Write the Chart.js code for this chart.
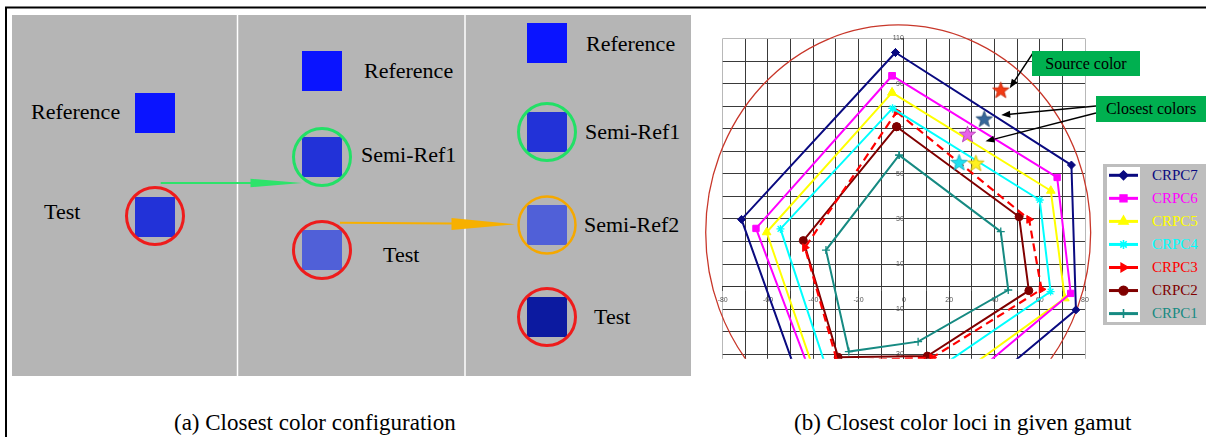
<!DOCTYPE html>
<html>
<head>
<meta charset="utf-8">
<script src="https://cdn.jsdelivr.net/npm/chart.js@4.4.1/dist/chart.umd.min.js"></script>
<style>
  html, body { margin: 0; padding: 0; background: #fff; }
  body { width: 1206px; height: 437px; position: relative; overflow: hidden; font-family: "Liberation Serif", "Times New Roman", serif; }
  #figure { position: absolute; left: 0; top: 0; }
  #chart-wrap { position: absolute; left: 690px; top: 0; width: 516px; height: 437px; }
  .note { position: absolute; background: #00b050; color: #000; font-size: 16px; text-align: center; white-space: nowrap; }
  #legend { position: absolute; left: 1103px; top: 164px; width: 103px; height: 161px; background: #bebebe; }
  #legend canvas { position: absolute; left: 4px; top: 3px; background: #fff; }
  #legend span { position: absolute; left: 49px; font-size: 15px; line-height: 15px; white-space: nowrap; }
</style>
</head>
<body>

<svg id="figure" width="1206" height="437" font-family="Liberation Serif, Times New Roman, serif">
  <line x1="6" y1="7" x2="6" y2="437" stroke="#000" stroke-width="2"/>
  <line x1="5" y1="7.5" x2="1206" y2="7.5" stroke="#000" stroke-width="2"/>
  <rect x="12" y="15" width="679" height="361" fill="#b5b5b5"/>
  <line x1="237.5" y1="15" x2="237.5" y2="376" stroke="#fff" stroke-width="1.5"/>
  <line x1="465" y1="15" x2="465" y2="376" stroke="#fff" stroke-width="1.5"/>

  <!-- panel 1 -->
  <rect x="135" y="93" width="40" height="40" fill="#0a14ff"/>
  <text x="31" y="119" font-size="22">Reference</text>
  <rect x="135" y="197" width="40" height="40" fill="#2232d8"/>
  <circle cx="155" cy="216" r="28.5" fill="none" stroke="#ee1c1c" stroke-width="3"/>
  <text x="44" y="219" font-size="22">Test</text>
  <line x1="160.7" y1="183" x2="252" y2="183" stroke="#2de36a" stroke-width="2"/>
  <polygon points="250.5,178.8 302,183 250.5,187.2" fill="#2de36a"/>

  <!-- panel 2 -->
  <rect x="302" y="51" width="40" height="40" fill="#0a14ff"/>
  <text x="364" y="78" font-size="22">Reference</text>
  <rect x="302" y="137" width="40" height="40" fill="#2232d8"/>
  <circle cx="322" cy="157" r="28.5" fill="none" stroke="#22e066" stroke-width="3"/>
  <text x="361" y="162" font-size="22">Semi-Ref1</text>
  <rect x="302" y="230" width="40" height="40" fill="#5060d8"/>
  <circle cx="322" cy="250" r="28.5" fill="none" stroke="#ee1c1c" stroke-width="3"/>
  <text x="383" y="262" font-size="22">Test</text>
  <line x1="340" y1="222.7" x2="453" y2="223.5" stroke="#f7b000" stroke-width="2"/>
  <polygon points="451.5,218 515,224.3 451.5,230" fill="#f7b000"/>

  <!-- panel 3 -->
  <rect x="527" y="23" width="40" height="40" fill="#0a14ff"/>
  <text x="586" y="51" font-size="22">Reference</text>
  <rect x="527" y="112" width="40" height="40" fill="#2232d8"/>
  <circle cx="547" cy="132" r="28.5" fill="none" stroke="#22e066" stroke-width="3"/>
  <text x="585" y="139" font-size="22">Semi-Ref1</text>
  <rect x="527" y="205" width="40" height="40" fill="#5060d8"/>
  <circle cx="547" cy="225" r="28.5" fill="none" stroke="#f5a800" stroke-width="2.5"/>
  <text x="584" y="232" font-size="22">Semi-Ref2</text>
  <rect x="527" y="297" width="40" height="40" fill="#0c1aa0"/>
  <circle cx="547" cy="317" r="28.5" fill="none" stroke="#ee1c1c" stroke-width="3"/>
  <text x="594" y="324" font-size="22">Test</text>

  <text x="174" y="430" font-size="23">(a) Closest color configuration</text>
  <text x="794" y="430" font-size="23">(b) Closest color loci in given gamut</text>
</svg>

<div id="chart-wrap"><canvas id="myChart" width="516" height="437"></canvas></div>

<div class="note" style="left:1032px; top:51px; width:108px; height:25px; line-height:25px;">Source color</div>
<div class="note" style="left:1096px; top:96px; width:110px; height:26px; line-height:26px;">Closest colors</div>

<div id="legend"><canvas id="legendCanvas" width="33" height="155"></canvas></div>

<script>
// series in legend order
const seriesNames = ['CRPC7', 'CRPC6', 'CRPC5', 'CRPC4', 'CRPC3', 'CRPC2', 'CRPC1'];

// vertices (closed polygons, first point repeated)
const crpc7X = [-3.7, 74.0, 76.0, 31.0, -44.0, -71.7, -3.7];
const crpc7Y = [103.8, 53.9, -10.3, -48.0, -48.0, 29.8, 103.8];
const crpc6X = [-5.2, 67.7, 73.7, 20.0, -37.6, -65.3, -5.2];
const crpc6Y = [93.5, 48.4, -3.0, -48.0, -48.0, 25.8, 93.5];
const crpc5X = [-5.2, 64.9, 71.1, 12.0, -36.0, -60.6, -5.2];
const crpc5Y = [86.0, 42.5, -5.2, -48.0, -48.0, 24.1, 86.0];
const crpc4X = [-5.0, 60.0, 64.8, -2.0, -30.3, -54.5, -5.0];
const crpc4Y = [79.0, 38.4, -2.2, -48.0, -48.0, 25.6, 79.0];
const crpc3X = [-3.2, 55.3, 60.8, 12.5, -29.5, -43.7, -3.2];
const crpc3Y = [77.5, 29.8, -1.2, -31.5, -33.0, 17.3, 77.5];
const crpc2X = [-3.2, 50.9, 55.2, 10.4, -29.0, -44.4, -3.2];
const crpc2Y = [70.9, 31.0, -1.8, -30.8, -31.3, 20.4, 70.9];
const crpc1X = [-2.1, 42.8, 46.1, 6.3, -24.3, -34.4, -2.1];
const crpc1Y = [58.3, 24.4, -1.5, -24.4, -28.8, 16.2, 58.3];

// source color + closest colors
const starX = [42.8, 35.5, 28.1, 24.4, 31.8];
const starY = [87.1, 74.3, 67.5, 55.0, 54.7];

// gamut boundary (ellipse)
const gamutCenter = [-2.5, 24];
const gamutRadius = [85, 92];

// axes
const xGridValues = [-80, -70, -60, -50, -40, -30, -20, -10, 0, 10, 20, 30, 40, 50, 60, 70, 80];
const xTickLabels = [-80, -60, -40, -20, 0, 20, 40, 60, 80];
const yGridValues = [-30, -20, -10, 0, 10, 20, 30, 40, 50, 60, 70, 80, 90, 100, 110];
const yTickLabels = [110, 90, 70, 50, 30, 10, -10, -30];

// styles
const seriesColors = ['#0a0a80', '#ff00ff', '#ffff00', '#00ffff', '#ff0000', '#800000', '#168a82'];
const markerStyles = ['rectRot', 'rect', 'triangle', 'star', 'triangle', 'circle', 'cross'];
const markerRadii = [4, 4.5, 5, 4, 4.5, 4, 4];
const markerRotation = [0, 0, 0, 0, 90, 0, 0];
const starColors = ['#f23a14', '#37679a', '#e861e8', '#1fe0f0', '#fff01e'];
const starEdges = ['#c02000', '#20466e', '#b030b0', '#10a8b8', '#c8b000'];


function toPoints(xs, ys) {
    return xs.map((x, i) => ({ x: x, y: ys[i] }));
}


function makeStar(fill, edge) {
    const c = document.createElement('canvas');
    c.width = 19;
    c.height = 19;
    const g = c.getContext('2d');
    g.beginPath();
    for (let i = 0; i < 10; i++) {
        const r = i % 2 === 0 ? 8.6 : 3.6;
        const a = -Math.PI / 2 + i * Math.PI / 5;
        g.lineTo(9.5 + r * Math.cos(a), 10 + r * Math.sin(a));
    }
    g.closePath();
    g.fillStyle = fill;
    g.fill();
    g.strokeStyle = edge;
    g.lineWidth = 0.8;
    g.stroke();
    return c;
}


function drawArrow(ctx, x1, y1, x2, y2) {
    const a = Math.atan2(y2 - y1, x2 - x1);
    ctx.beginPath();
    ctx.moveTo(x1, y1);
    ctx.lineTo(x2 - 6 * Math.cos(a), y2 - 6 * Math.sin(a));
    ctx.stroke();
    ctx.beginPath();
    ctx.moveTo(x2, y2);
    ctx.lineTo(x2 - 9 * Math.cos(a) + 3.5 * Math.sin(a), y2 - 9 * Math.sin(a) - 3.5 * Math.cos(a));
    ctx.lineTo(x2 - 9 * Math.cos(a) - 3.5 * Math.sin(a), y2 - 9 * Math.sin(a) + 3.5 * Math.cos(a));
    ctx.closePath();
    ctx.fill();
}


const gamutPlugin = {
    id: 'gamut',
    beforeDatasetsDraw(chart) {
        const { ctx, chartArea, scales } = chart;
        const cx = scales.x.getPixelForValue(gamutCenter[0]);
        const cy = scales.y.getPixelForValue(gamutCenter[1]);
        const rx = scales.x.getPixelForValue(gamutCenter[0] + gamutRadius[0]) - cx;
        const ry = cy - scales.y.getPixelForValue(gamutCenter[1] + gamutRadius[1]);
        ctx.save();
        ctx.beginPath();
        ctx.rect(0, 0, chart.width, chartArea.bottom);
        ctx.clip();
        ctx.beginPath();
        ctx.ellipse(cx, cy, rx, ry, 0, 0, Math.PI * 2);
        ctx.strokeStyle = '#c8372a';
        ctx.lineWidth = 1.3;
        ctx.stroke();
        ctx.restore();
    },
    afterDatasetsDraw(chart) {
        const { ctx, scales } = chart;
        const px = (i) => scales.x.getPixelForValue(starX[i]);
        const py = (i) => scales.y.getPixelForValue(starY[i]);
        ctx.save();
        ctx.strokeStyle = '#000';
        ctx.fillStyle = '#000';
        ctx.lineWidth = 1.4;
        drawArrow(ctx, 343, 53, px(0) + 9, py(0) - 2);
        drawArrow(ctx, 406, 106, px(1) + 17, py(1) - 4);
        drawArrow(ctx, 406, 113, px(2) + 18, py(2) + 7);
        ctx.restore();
    }
};


function gridColor(edges) {
    return (ctx) => edges.includes(ctx.tick.value) ? '#b8b8b8' : '#3a3a3a';
}


function buildDatasets() {
    const allX = [crpc7X, crpc6X, crpc5X, crpc4X, crpc3X, crpc2X, crpc1X];
    const allY = [crpc7Y, crpc6Y, crpc5Y, crpc4Y, crpc3Y, crpc2Y, crpc1Y];
    const sets = [{
        label: 'stars',
        data: toPoints(starX, starY),
        showLine: false,
        pointStyle: starColors.map((c, i) => makeStar(c, starEdges[i])),
        order: 0
    }];
    for (let i = 0; i < seriesNames.length; i++) {
        sets.push({
            label: seriesNames[i],
            data: toPoints(allX[i], allY[i]),
            showLine: true,
            borderColor: seriesColors[i],
            backgroundColor: seriesColors[i],
            borderWidth: i === 4 ? 2.2 : 2,
            borderDash: i === 4 ? [8, 5] : [],
            pointStyle: markerStyles[i],
            pointRadius: markerRadii[i],
            pointRotation: markerRotation[i],
            pointBorderWidth: (i === 3 || i === 6) ? 1.3 : 1,
            tension: 0,
            order: 1
        });
    }
    return sets;
}


function drawChart() {
    const ctx = document.getElementById('myChart').getContext('2d');
    return new Chart(ctx, {
        type: 'scatter',
        data: { datasets: buildDatasets() },
        plugins: [gamutPlugin],
        options: {
            responsive: false,
            animation: false,
            devicePixelRatio: 1,
            layout: { padding: { left: 32.7, right: 121, top: 38.5, bottom: 78.2 } },
            plugins: { legend: { display: false }, tooltip: { enabled: false } },
            scales: {
                x: {
                    type: 'linear',
                    min: -80,
                    max: 80,
                    position: { y: 0 },
                    afterBuildTicks: (axis) => { axis.ticks = xGridValues.map(v => ({ value: v })); },
                    ticks: {
                        autoSkip: false,
                        maxRotation: 0,
                        padding: 5,
                        color: '#555',
                        font: { size: 7, family: 'Liberation Sans' },
                        callback: (v) => xTickLabels.includes(v) ? String(v) : ''
                    },
                    grid: { color: gridColor([-80, 80]), lineWidth: 1, tickLength: 4, tickColor: '#555' },
                    border: { color: '#333', width: 1 }
                },
                y: {
                    type: 'linear',
                    min: -32,
                    max: 110,
                    position: { x: 0 },
                    afterBuildTicks: (axis) => { axis.ticks = yGridValues.map(v => ({ value: v })); },
                    ticks: {
                        autoSkip: false,
                        padding: 2,
                        color: '#555',
                        font: { size: 7, family: 'Liberation Sans' },
                        callback: (v) => yTickLabels.includes(v) ? String(v) : ''
                    },
                    grid: { color: gridColor([110]), lineWidth: 1, tickLength: 3, tickColor: '#555' },
                    border: { color: '#333', width: 1 }
                }
            }
        }
    });
}


function renderLegend(chart) {
    const box = document.getElementById('legend');
    const g = document.getElementById('legendCanvas').getContext('2d');
    const sets = chart.data.datasets.filter(d => d.label !== 'stars');
    sets.forEach((d, i) => {
        const cy = 8.3 + i * 23.05;
        g.save();
        g.strokeStyle = d.borderColor;
        g.fillStyle = d.borderColor;
        g.lineWidth = 3;
        g.setLineDash(d.borderDash.length ? [12, 6] : []);
        g.beginPath();
        g.moveTo(2, cy);
        g.lineTo(31, cy);
        g.stroke();
        g.setLineDash([]);
        g.lineWidth = d.pointBorderWidth + 0.3;
        if (Chart.helpers && Chart.helpers.drawPoint) {
            Chart.helpers.drawPoint(g, { pointStyle: d.pointStyle, radius: d.pointRadius + 0.5, rotation: d.pointRotation, borderWidth: g.lineWidth }, 16.5, cy);
        }
        g.restore();

        const label = document.createElement('span');
        label.textContent = d.label;
        label.style.color = d.borderColor;
        label.style.top = (cy + 3 - 7.5) + 'px';
        box.appendChild(label);
    });
}


const myChart = drawChart();
renderLegend(myChart);
</script>
</body>
</html>
